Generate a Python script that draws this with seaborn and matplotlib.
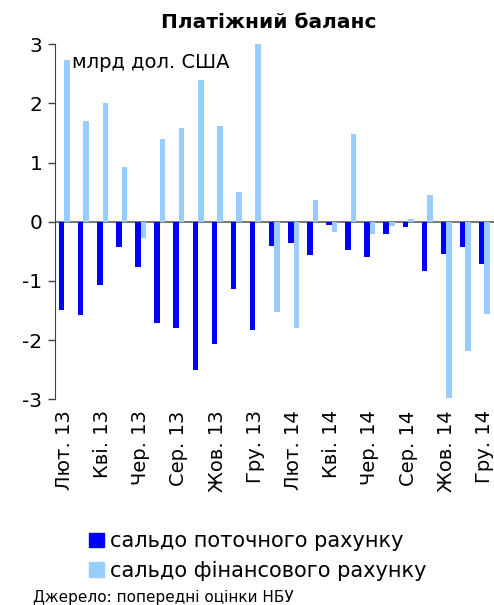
import seaborn as sns
import matplotlib.pyplot as plt
import pandas as pd

# місяці: лютий 2013 - грудень 2014
months = ["Лют. 13", "Бер. 13", "Кві. 13", "Тра. 13", "Чер. 13", "Лип. 13",
          "Сер. 13", "Вер. 13", "Жов. 13", "Лис. 13", "Гру. 13", "Січ. 14",
          "Лют. 14", "Бер. 14", "Кві. 14", "Тра. 14", "Чер. 14", "Лип. 14",
          "Сер. 14", "Вер. 14", "Жов. 14", "Лис. 14", "Гру. 14"]

current_account = [-1.49, -1.57, -1.07, -0.43, -0.77, -1.71, -1.80, -2.51, -2.07,
                   -1.13, -1.83, -0.41, -0.36, -0.57, -0.06, -0.47, -0.59, -0.21,
                   -0.09, -0.84, -0.54, -0.42, -0.71]
financial_account = [2.74, 1.70, 2.00, 0.93, -0.27, 1.39, 1.59, 2.40, 1.62,
                     0.50, 3.05, -1.52, -1.79, 0.36, -0.17, 1.48, -0.21, -0.07,
                     0.04, 0.46, -2.98, -2.18, -1.56]

series_names = ["сальдо поточного рахунку", "сальдо фінансового рахунку"]
colors = ["#0000FF", "#99CCFF"]

df = pd.DataFrame({
    "month": months * 2,
    "value": current_account + financial_account,
    "series": [series_names[0]] * len(months) + [series_names[1]] * len(months),
})

sns.set_style("white")
plt.rcParams["font.family"] = ["DejaVu Sans"]
plt.rcParams["text.color"] = "black"
plt.rcParams["xtick.color"] = "black"
plt.rcParams["ytick.color"] = "black"

fig = plt.figure(figsize=(4.94, 6.05), dpi=100)
ax = fig.add_axes([0.111, 0.340, 0.889, 0.587])

sns.barplot(data=df, x="month", y="value", hue="series", order=months,
            hue_order=series_names, palette=colors, width=0.58,
            saturation=1, ax=ax, legend=False, linewidth=0, edgecolor="none")

ax.set_ylim(-3, 3)
ax.set_xlim(-0.5, len(months) - 0.5)
ax.set_yticks([-3, -2, -1, 0, 1, 2, 3])
ax.set_yticklabels(["-3", "-2", "-1", "0", "1", "2", "3"], fontsize=14.5)
ax.set_xticks(range(0, len(months), 2))
ax.set_xticklabels(months[::2], rotation=90, fontsize=14)
ax.tick_params(axis="x", length=0, pad=8)
ax.tick_params(axis="y", length=5, width=1, color="#404040", pad=4, left=True)
ax.axhline(0, color="#606060", lw=1.2, zorder=0.5)

for s in ["top", "right", "bottom"]:
    ax.spines[s].set_visible(False)
ax.spines["left"].set_color("#404040")
ax.set_xlabel("")
ax.set_ylabel("")

fig.text(0.545, 0.963, "Платіжний баланс", ha="center", va="center",
         fontsize=14.5, fontweight="bold")
ax.text(0.038, 0.975, "млрд дол. США", transform=ax.transAxes,
        ha="left", va="top", fontsize=14)

handles = [plt.Rectangle((0, 0), 1, 1, color=c) for c in colors]
fig.legend(handles, series_names, loc="upper left",
           bbox_to_anchor=(0.18, 0.122), frameon=False, fontsize=15,
           handlelength=0.7, handleheight=0.7, handletextpad=0.3,
           labelspacing=0.45, borderpad=0, borderaxespad=0)

fig.text(0.067, 0.013, "Джерело: попередні оцінки НБУ", ha="left", va="center",
         fontsize=11)

fig.savefig("out.png", dpi=100)
